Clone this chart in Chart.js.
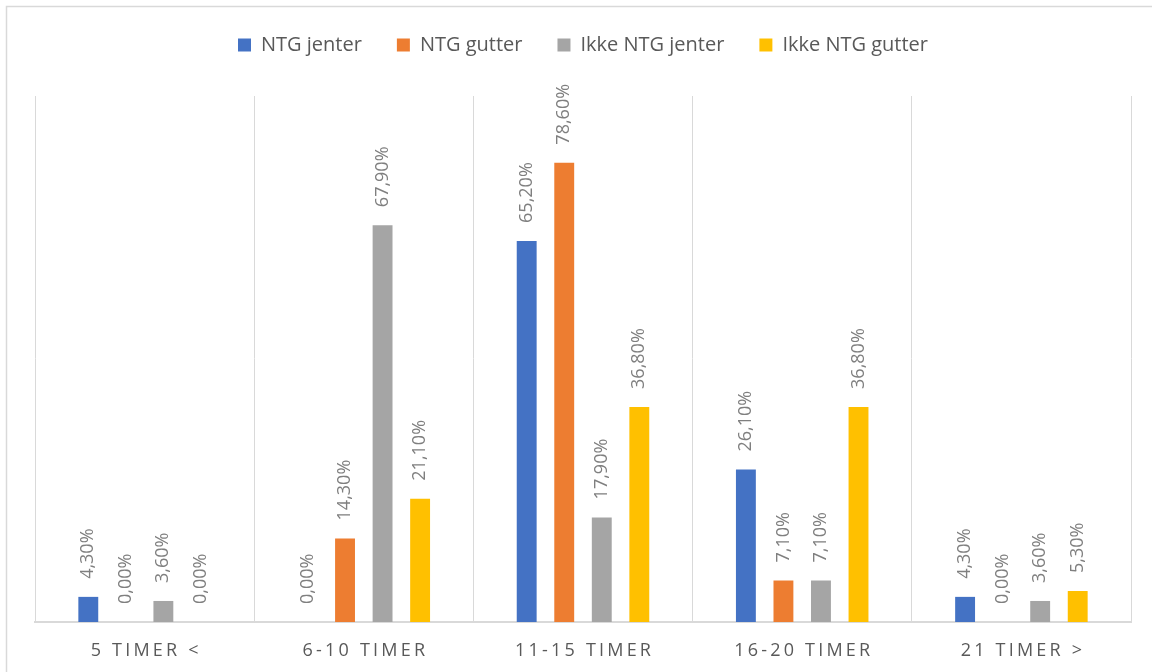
<!DOCTYPE html>
<html lang="no">
<head>
<meta charset="UTF-8">
<title>Timer per uke</title>
<script src="https://cdn.jsdelivr.net/npm/chart.js@4.4.1/dist/chart.umd.min.js"></script>
<style>
    html, body { margin: 0; padding: 0; background: #ffffff; overflow: hidden; }
    #chartBox { width: 1152px; height: 672px; position: relative; }
</style>
</head>
<body>
<div id="chartBox"><canvas id="timerChart"></canvas></div>
<script>
// Categories and series
const categories = ['5 TIMER <', '6-10 TIMER', '11-15 TIMER', '16-20 TIMER', '21 TIMER >'];
const ntgJenter = [4.3, 0, 65.2, 26.1, 4.3];
const ntgGutter = [0, 14.3, 78.6, 7.1, 0];
const ikkeNtgJenter = [3.6, 67.9, 17.9, 7.1, 3.6];
const ikkeNtgGutter = [0, 21.1, 36.8, 36.8, 5.3];

const seriesNames = ['NTG jenter', 'NTG gutter', 'Ikke NTG jenter', 'Ikke NTG gutter'];
const seriesColors = ['#4472C4', '#ED7D31', '#A5A5A5', '#FFC000'];

const fontFamily = "'Open Sans', 'Liberation Sans', sans-serif";
Chart.defaults.font.family = fontFamily;

// "4,30%" style labels
function formatPercent(v) {
    return v.toFixed(2).replace('.', ',') + '%';
}

// Light frame around the whole chart
const frame = {
    id: 'frame',
    beforeDraw(chart) {
        const ctx = chart.ctx;
        ctx.save();
        ctx.strokeStyle = '#d9d9d9';
        ctx.lineWidth = 1.5;
        ctx.strokeRect(6.5, 6.5, chart.width + 20, chart.height + 20);
        ctx.restore();
    }
};

// Extra room between the legend and the bars
const legendGap = {
    id: 'legendGap',
    beforeInit(chart) {
        const fit = chart.legend.fit;
        chart.legend.fit = function () {
            fit.bind(chart.legend)();
            this.height += 31;
        };
    }
};

// Rotated value labels above each bar
const valueLabels = {
    id: 'valueLabels',
    afterDatasetsDraw(chart) {
        const ctx = chart.ctx;
        ctx.save();
        ctx.font = '18px ' + fontFamily;
        ctx.fillStyle = '#7f7f7f';
        ctx.textAlign = 'left';
        ctx.textBaseline = 'middle';
        chart.data.datasets.forEach((ds, i) => {
            const meta = chart.getDatasetMeta(i);
            meta.data.forEach((bar, j) => {
                ctx.save();
                ctx.translate(bar.x, bar.y - 18);
                ctx.rotate(-Math.PI / 2);
                ctx.fillText(formatPercent(ds.data[j]), 0, 0);
                ctx.restore();
            });
        });
        ctx.restore();
    }
};

// Category names under the axis, spaced out
const categoryLabels = {
    id: 'categoryLabels',
    afterDraw(chart) {
        const ctx = chart.ctx;
        const xScale = chart.scales.x;
        ctx.save();
        ctx.font = '18px ' + fontFamily;
        ctx.fillStyle = '#595959';
        ctx.textAlign = 'center';
        ctx.textBaseline = 'middle';
        ctx.letterSpacing = '3.2px';
        categories.forEach((label, i) => {
            ctx.fillText(label, xScale.getPixelForTick(i) + 1.6, chart.chartArea.bottom + 29);
        });
        ctx.restore();
    }
};

document.addEventListener('DOMContentLoaded', function () {
    const canvas = document.getElementById('timerChart').getContext('2d');
    const values = [ntgJenter, ntgGutter, ikkeNtgJenter, ikkeNtgGutter];

    new Chart(canvas, {
        type: 'bar',
        data: {
            labels: categories,
            datasets: values.map((v, i) => ({
                label: seriesNames[i],
                data: v,
                backgroundColor: seriesColors[i],
                categoryPercentage: 0.685,
                barPercentage: 0.53,
            })),
        },
        options: {
            responsive: true,
            maintainAspectRatio: false,
            animation: false,
            layout: { padding: { left: 35, right: 21, top: 0, bottom: 50 } },
            plugins: {
                legend: {
                    position: 'top',
                    labels: {
                        boxWidth: 13,
                        boxHeight: 13,
                        padding: 35,
                        color: '#595959',
                        font: { size: 20 },
                    },
                },
                tooltip: { enabled: false },
            },
            scales: {
                x: {
                    grid: { color: '#d9d9d9', lineWidth: 1, drawTicks: false },
                    border: { color: '#d9d9d9', width: 2 },
                    ticks: { display: false },
                },
                y: {
                    display: false,
                    min: 0,
                    max: 90,
                },
            },
        },
        plugins: [frame, legendGap, valueLabels, categoryLabels],
    });
});
</script>
</body>
</html>
